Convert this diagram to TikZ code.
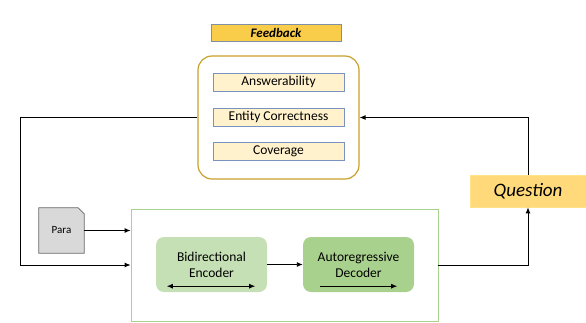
\documentclass[tikz,border=0pt]{standalone}
\usepackage{fontspec}
\setmainfont{Carlito}
\usepackage{tikz}
\usetikzlibrary{positioning}
\usetikzlibrary{arrows.meta}
\definecolor{fbgold}{HTML}{F9CD4A}
\definecolor{fbedge}{HTML}{7F8FA6}
\definecolor{loopedge}{HTML}{C9A02A}
\definecolor{critfill}{HTML}{FFF2CC}
\definecolor{critedge}{HTML}{7A92BE}
\definecolor{encfill}{HTML}{C5E0B4}
\definecolor{decfill}{HTML}{A9D18E}
\definecolor{modeledge}{HTML}{A9D18E}
\definecolor{qfill}{HTML}{FFD97A}
\definecolor{qedge}{HTML}{FFE28A}

\begin{document}
\begin{tikzpicture}[x=1pt, y=-1pt,
    critbox/.style={draw=critedge, fill=critfill, line width=0.7pt, minimum width=131pt, minimum height=18pt, inner sep=0pt, font=\fontsize{13.5}{14}\selectfont},
    blockbox/.style={rounded corners=8pt, minimum width=111pt, minimum height=55pt, inner sep=0pt, align=center, font=\fontsize{13.5}{16}\selectfont},
    link/.style={black, line width=0.9pt},
    tip/.tip={Latex[length=6pt, width=5pt]}]
    \useasboundingbox (0, 0) rectangle (586, 322);

    \node[draw=fbedge, fill=fbgold, line width=0.7pt, minimum width=130pt, minimum height=17pt, inner sep=0pt, font=\fontsize{13}{14}\selectfont\bfseries\itshape] (fbtitle) at (276, 33) {Feedback};
    \node[draw=loopedge, line width=1.2pt, rounded corners=14pt, minimum width=161pt, minimum height=123pt] (fb) at (278.5, 117.5) {};
    \node[critbox] (answ) at (278.5, 82) {Answerability};
    \node[critbox] (entity) at (278.5, 117) {Entity Correctness};
    \node[critbox] (cover) at (278.5, 151.5) {Coverage};

    % paragraph document
    \node[minimum width=45pt, minimum height=45pt, inner sep=0pt] (para) at (61.5, 230.5) {};
    \draw[fill=gray!30, draw=gray!80!black, line width=0.7pt] (para.south west) -- (para.north west) -- ([xshift=-6pt]para.north east) -- ([yshift=-6pt]para.north east) -- (para.south east) -- cycle;
    \node[font=\fontsize{11}{12}\selectfont] (paratext) at (para) {Para};

    % model
    \node[draw=modeledge, line width=0.8pt, minimum width=307pt, minimum height=112pt] (model) at (284.5, 265) {};
    \node[blockbox, fill=encfill] (enc) at (211.5, 264.5) {Bidirectional\\Encoder};
    \node[blockbox, fill=decfill] (dec) at (358.5, 264.5) {Autoregressive\\Decoder};
    \draw[link, tip-tip] ([xshift=11pt, yshift=6pt]enc.south west) -- ([xshift=-12pt, yshift=6pt]enc.south east);
    \draw[link, -tip] ([xshift=17pt, yshift=6pt]dec.south west) -- ([xshift=-17pt, yshift=6pt]dec.south east);
    \draw[link, -tip] (enc) -- (dec);

    \node[draw=qedge, fill=qfill, line width=0.7pt, minimum width=116pt, minimum height=32pt, inner sep=0pt, font=\fontsize{19}{20}\selectfont\itshape] (question) at (528, 191) {Question};

    % connectors
    \coordinate (lft) at (20, 265);
    \draw[link, -tip] (fb.west) -| (lft) -- (lft -| model.west);
    \draw[link, -tip] (para.east) -- (para.east -| model.west);
    \draw[link, -tip] (model.east) -| (question.south);
    \draw[link, -tip] (question.north) |- (fb.east);
\end{tikzpicture}
\end{document}
